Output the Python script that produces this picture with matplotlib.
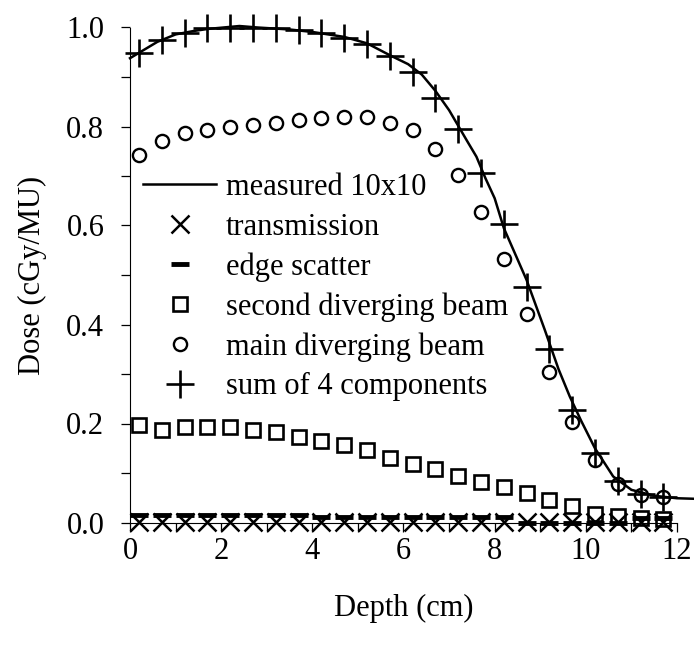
import matplotlib
matplotlib.use("Agg")
import matplotlib.pyplot as plt
from matplotlib.ticker import MultipleLocator, FormatStrFormatter

plt.rcParams['font.family'] = ['Liberation Serif', 'DejaVu Serif']
FS = 22

# measured 10x10 depth dose curve
measured_x = [0.0, 0.6, 1.0, 1.4, 1.7, 2.4, 2.8, 3.5, 4.0, 4.7, 5.2, 5.7, 6.1, 6.4,
              6.7, 7.0, 7.4, 7.6, 7.8, 8.0, 8.2, 8.7, 9.1, 9.4, 9.65, 9.9, 10.2,
              10.6, 11.0, 11.5, 12.0, 12.35]
measured_y = [0.938, 0.971, 0.986, 0.993, 0.997, 1.003, 1.0, 0.996, 0.991, 0.981,
              0.968, 0.944, 0.926, 0.905, 0.872, 0.833, 0.770, 0.739, 0.695, 0.655,
              0.595, 0.490, 0.389, 0.310, 0.254, 0.205, 0.150, 0.093, 0.066, 0.054,
              0.049, 0.048]

# calculated components
depth = [0.2, 0.7, 1.2, 1.7, 2.2, 2.7, 3.2, 3.7, 4.2, 4.7, 5.2, 5.7, 6.2, 6.7,
         7.2, 7.7, 8.2, 8.7, 9.2, 9.7, 10.2, 10.7, 11.2, 11.7]
transmission = [0.002] * 24
edge_scatter = [0.015, 0.015, 0.015, 0.015, 0.015, 0.015, 0.015, 0.015,
                0.011, 0.011, 0.011, 0.011, 0.011, 0.011, 0.011, 0.011, 0.011,
                0.0, 0.0, 0.0, 0.0, 0.0, 0.010, 0.010]
second_beam = [0.197, 0.187, 0.192, 0.192, 0.192, 0.187, 0.182, 0.172, 0.165, 0.157,
               0.146, 0.130, 0.118, 0.108, 0.093, 0.082, 0.071, 0.060, 0.046, 0.033,
               0.018, 0.013, 0.009, 0.008]
main_beam = [0.742, 0.771, 0.786, 0.793, 0.798, 0.803, 0.808, 0.813, 0.818, 0.819,
             0.819, 0.808, 0.793, 0.755, 0.702, 0.628, 0.532, 0.421, 0.305, 0.204,
             0.126, 0.077, 0.055, 0.051]
sum_components = [0.948, 0.975, 0.989, 0.998, 1.0, 1.0, 1.0, 0.995, 0.989, 0.978,
                  0.967, 0.942, 0.911, 0.857, 0.794, 0.707, 0.604, 0.476, 0.350,
                  0.227, 0.140, 0.084, 0.058, 0.051]

fig = plt.figure(figsize=(6.94, 6.5), dpi=100)
ax = fig.add_axes([130 / 694, 127.5 / 650, 547 / 694, 495 / 650])

ax.plot(measured_x, measured_y, 'k-', lw=1.8, label='measured 10x10', clip_on=False, zorder=3)
ax.plot(depth, transmission, 'x', color='k', ms=13, mew=1.8, ls='none',
        label='transmission', clip_on=False, zorder=4)
ax.plot(depth, edge_scatter, '_', color='k', ms=13, mew=3.5, ls='none',
        label='edge scatter', clip_on=False, zorder=4)
ax.plot(depth, second_beam, 's', mfc='none', mec='k', ms=10, mew=1.9, ls='none',
        label='second diverging beam', clip_on=False, zorder=4)
ax.plot(depth, main_beam, 'o', mfc='none', mec='k', ms=9.5, mew=1.7, ls='none',
        label='main diverging beam', clip_on=False, zorder=4)
ax.plot(depth, sum_components, '+', color='k', ms=20, mew=1.9, ls='none',
        label='sum of 4 components', clip_on=False, zorder=5)

ax.set_xlim(0, 12)
ax.set_ylim(0, 1.0)
ax.spines['top'].set_visible(False)
ax.spines['right'].set_visible(False)
ax.xaxis.set_major_locator(MultipleLocator(2))
ax.xaxis.set_minor_locator(MultipleLocator(1))
ax.yaxis.set_major_locator(MultipleLocator(0.2))
ax.yaxis.set_minor_locator(MultipleLocator(0.1))
ax.yaxis.set_major_formatter(FormatStrFormatter('%.1f'))
ax.tick_params(which='both', direction='out', length=6.5, width=0.9, labelsize=FS)
ax.tick_params(axis='y', pad=12)
ax.tick_params(axis='x', pad=4)

ax.set_xlabel('Depth (cm)', fontsize=FS, labelpad=20)
ax.set_ylabel('Dose (cGy/MU)', fontsize=FS, labelpad=14)

ax.legend(loc='upper left', bbox_to_anchor=(143 / 694, 1 - 173 / 650),
          bbox_transform=fig.transFigure, frameon=False, fontsize=FS,
          handlelength=2.4, handletextpad=0.3, labelspacing=0.345, borderpad=0,
          borderaxespad=0)

fig.savefig('out.png', dpi=100)
